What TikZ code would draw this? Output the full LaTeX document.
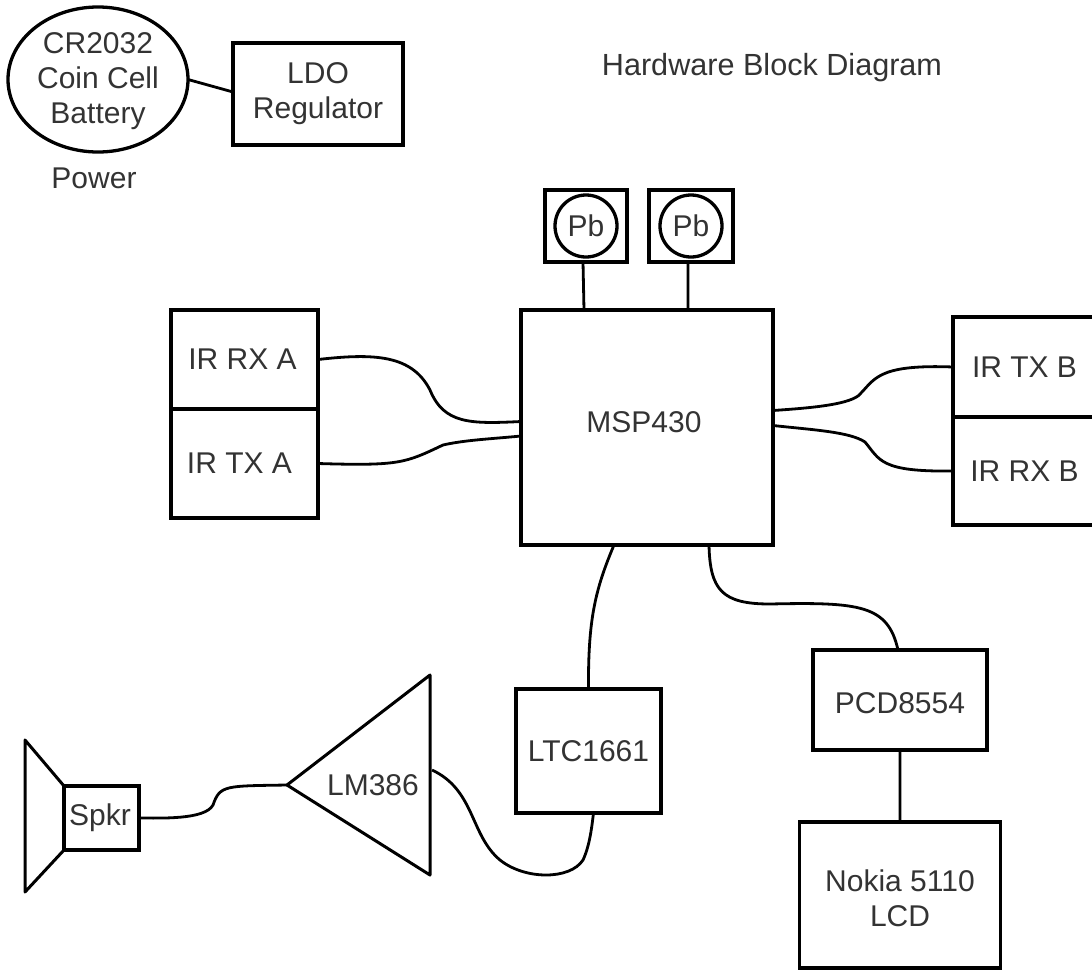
\documentclass[tikz,border=0pt]{standalone}
\usepackage{fontspec}
\setmainfont{Liberation Sans}
\usetikzlibrary{positioning,shapes.geometric}

\begin{document}
\begin{tikzpicture}[x=1pt, y=-1pt, on grid,
font=\fontsize{30}{35}\selectfont, text=black!80,
blockbox/.style={draw, line width=3.3pt, inner sep=0pt, outer sep=0pt, align=center},
plain/.style={inner sep=0pt, outer sep=0pt, align=center},
wire/.style={draw, line width=2.8pt}]
\useasboundingbox (0,0) rectangle (1092,970);
\node [blockbox, ellipse, minimum width=180pt, minimum height=145pt,
label={[plain, yshift=-2pt]center:CR2032\\Coin Cell\\Battery}] (batt) at (98,79.5) {};
\node [blockbox, minimum width=170pt, minimum height=102pt] (ldo) [below right = 14.5pt and 220pt of batt] {LDO\\Regulator};
\node [plain] (power) [below left = 98.5pt and 4pt of batt] {Power};
\node [plain, font=\fontsize{30.6}{35}\selectfont] (title) at (772,68) {Hardware Block Diagram};
\node [blockbox, minimum width=252pt, minimum height=235pt,
label={[plain, xshift=-3pt, yshift=5pt]center:MSP430}] (mcu) at (647,427.5) {};
\node [blockbox, minimum width=147pt, minimum height=99pt,
label={[plain, xshift=-2pt]center:IR RX A}] (rxa) [above left = 68pt and 402.5pt of mcu] {};
\node [blockbox, minimum width=147pt, minimum height=109pt,
label={[plain, xshift=-5pt]center:IR TX A}] (txa) [below = 104pt of rxa] {};
\node [blockbox, minimum width=143pt, minimum height=100pt] (txb) [above right = 60.5pt and 377.5pt of mcu] {IR TX B};
\node [blockbox, minimum width=143pt, minimum height=108pt] (rxb) [below = 104pt of txb] {IR RX B};
\node [blockbox, minimum width=82pt, minimum height=72pt] (pba_box) [above left = 201.5pt and 61pt of mcu] {};
\node [blockbox, minimum width=84pt, minimum height=72pt] (pbb_box) [right = 105pt of pba_box] {};
\node [blockbox, circle, minimum size=62pt] (pba) at (pba_box) {Pb};
\node [blockbox, circle, minimum size=62pt] (pbb) at (pbb_box) {Pb};
\node [blockbox, minimum width=145pt, minimum height=124pt] (ltc) [below left = 323.5pt and 58.5pt of mcu] {LTC1661};
\node [blockbox, minimum width=174pt, minimum height=100pt,
label={[plain, yshift=-3pt]center:PCD8554}] (pcd) [below right = 272.5pt and 253pt of mcu] {};
\node [blockbox, minimum width=201pt, minimum height=146pt,
label={[plain, yshift=-3pt]center:Nokia 5110\\LCD}] (lcd) [below = 195pt of pcd] {};
\node [plain] (amp) at (373,785) {LM386};
\coordinate [left = 86pt of amp] (amp_in);
\coordinate [above right = 110pt and 57pt of amp] (amp_top);
\coordinate [below right = 90pt and 57pt of amp] (amp_bot);
\coordinate [below right = -15pt and 59pt of amp] (amp_out);
\node [blockbox, minimum width=75pt, minimum height=64pt,
label={[plain, xshift=-1.5pt]center:Spkr}] (spkr) at (101.5,818) {};
\coordinate [above left = 78pt and 76.5pt of spkr] (cone_top);
\coordinate [below left = 74pt and 76.5pt of spkr] (cone_bot);
\draw [line width=3pt, line join=round] (amp_in) -- (amp_top) -- (amp_bot) -- cycle;
\draw [line width=3pt, line join=round] (spkr.north west) -- (cone_top) -- (cone_bot) -- (spkr.south west);
\path [wire]
(batt.east) -- ([yshift=2pt]ldo.west)
(pcd.south) -- (lcd.north)
([xshift=-3pt]pba_box.south) -- ([xshift=-2pt,yshift=-48pt]pba_box.south)
([xshift=-3pt]pbb_box.south) -- ([xshift=-3pt,yshift=-48pt]pbb_box.south);
\path [wire]
(rxa.east) .. controls (375,353) and (412,355) .. (430,390) .. controls (444,424) and (470,424) .. ([yshift=6pt]mcu.west)
(txa.east) .. controls (400,466) and (405,463) .. (443,445) .. controls (465,440) and (490,439) .. ([yshift=-8.5pt]mcu.west)
(txb.west) .. controls (875,364) and (875,380) .. (858,396) .. controls (845,405) and (810,408) .. ([yshift=17pt]mcu.east)
(rxb.west) .. controls (880,472) and (880,460) .. (865,442) .. controls (850,432) and (815,430) .. ([yshift=2pt]mcu.east)
(ltc.north) .. controls (588,620) and (595,590) .. ([xshift=-33pt]mcu.south)
([xshift=62pt]mcu.south) .. controls (710,590) and (722,604) .. (770,604) .. controls (860,602) and (888,605) .. ([xshift=-2pt]pcd.north)
(spkr.east) .. controls (160,818) and (205,820) .. (213,805) .. controls (220,785) and (225,786) .. (amp_in)
(amp_out) .. controls (475,790) and (470,835) .. (500,860) .. controls (525,880) and (570,880) .. (583,860) .. controls (590,845) and (592,825) .. ([xshift=5pt]ltc.south);
\end{tikzpicture}
\end{document}
